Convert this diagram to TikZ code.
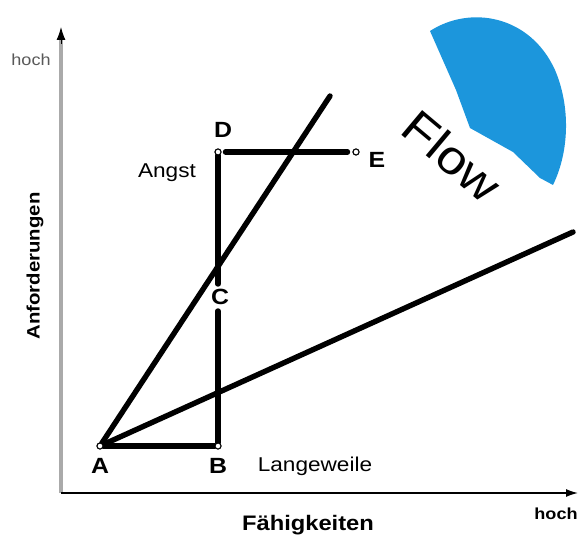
\documentclass[tikz,border=0pt]{standalone}
\usepackage{fontspec}
\usepackage{graphicx}
\setmainfont{Liberation Sans}
\usetikzlibrary{arrows.meta}
\definecolor{flowblue}{RGB}{28,150,220}
\definecolor{axisgray}{RGB}{170,170,170}
\newcommand\sx[1]{\scalebox{1.13}[1]{#1}}
\tikzset{
  thick line/.style={line width=5.4pt, line cap=round},
  pt/.style={circle, draw, line width=1pt, inner sep=0pt, minimum size=6pt, fill=white},
  letter/.style={font=\bfseries\fontsize{22}{22}\selectfont},
  word/.style={font=\fontsize{20}{20}\selectfont},
  axlabel/.style={font=\bfseries\fontsize{18}{18}\selectfont},
}
\begin{document}
\begin{tikzpicture}[x=1pt,y=-1pt]
\useasboundingbox (0,0) rectangle (581,540);
% blue flow area
\fill[flowblue] (430,31) .. controls (470,5) and (530,15) .. (555,70)
  .. controls (570,105) and (570,150) .. (553,185)
  -- (540,178) -- (513,152) -- (470,128) -- (456,90) -- cycle;
% axes
\coordinate (O) at (61,493);
\coordinate (Ytop) at (61,27);
\coordinate (Xend) at (578,493);
\draw[axisgray, line width=3.5pt] (O) -- (61,40);
\draw[line width=1pt, -{Latex[length=13pt,width=9pt]}] (61,44) -- (Ytop);
\draw[line width=1.4pt, -{Latex[length=12pt,width=8pt]}] (O) -- (Xend);
% points
\node[pt] (A) at (100,446) {};
\node[pt] (B) at (218,446) {};
\node[pt] (D) at (218,152) {};
\node[pt] (E) at (356,152) {};
\coordinate (C1) at (218,311);
\coordinate (C2) at (218,284);
\coordinate (S) at (330,96);
\coordinate (F) at (573,232);
% lines
\draw[thick line] (A) -- (S);
\draw[thick line] (A) -- (F);
\draw[thick line] (A) -- (B);
\draw[thick line] (B) -- (C1);
\draw[thick line] (C2) -- (D);
\draw[thick line, shorten <=4pt, shorten >=5pt] (D) -- (E);
% redraw point circles on top
\node[pt] at (A) {};
\node[pt] at (B) {};
\node[pt] at (D) {};
\node[pt] at (E) {};
% labels
\node[letter] (lA) at (100,466) {\sx{A}};
\node[letter] (lB) at (218,466) {\sx{B}};
\node[letter] (lC) at (220,297) {\sx{C}};
\node[letter] (lD) at (223,130) {\sx{D}};
\node[letter] (lE) at (377,160) {\sx{E}};
\node[word] (angst) at (167,173) {\sx{Angst}};
\node[word] (lw) at (315,466) {\sx{Langeweile}};
\node[font=\fontsize{47}{47}\selectfont, rotate=-40] (flow) at (452,156) {\sx{Flow}};
\node[font=\fontsize{16}{16}\selectfont, text=black!65] (hy) at (31,60) {\sx{hoch}};
\node[axlabel, font=\bfseries\fontsize{16}{16}\selectfont] (hx) at (556,514) {\sx{hoch}};
\node[axlabel, rotate=90] (yl) at (35,266) {\sx{Anforderungen}};
\node[axlabel, font=\bfseries\fontsize{21}{21}\selectfont] (xl) at (308,525) {\sx{Fähigkeiten}};
\end{tikzpicture}
\end{document}
